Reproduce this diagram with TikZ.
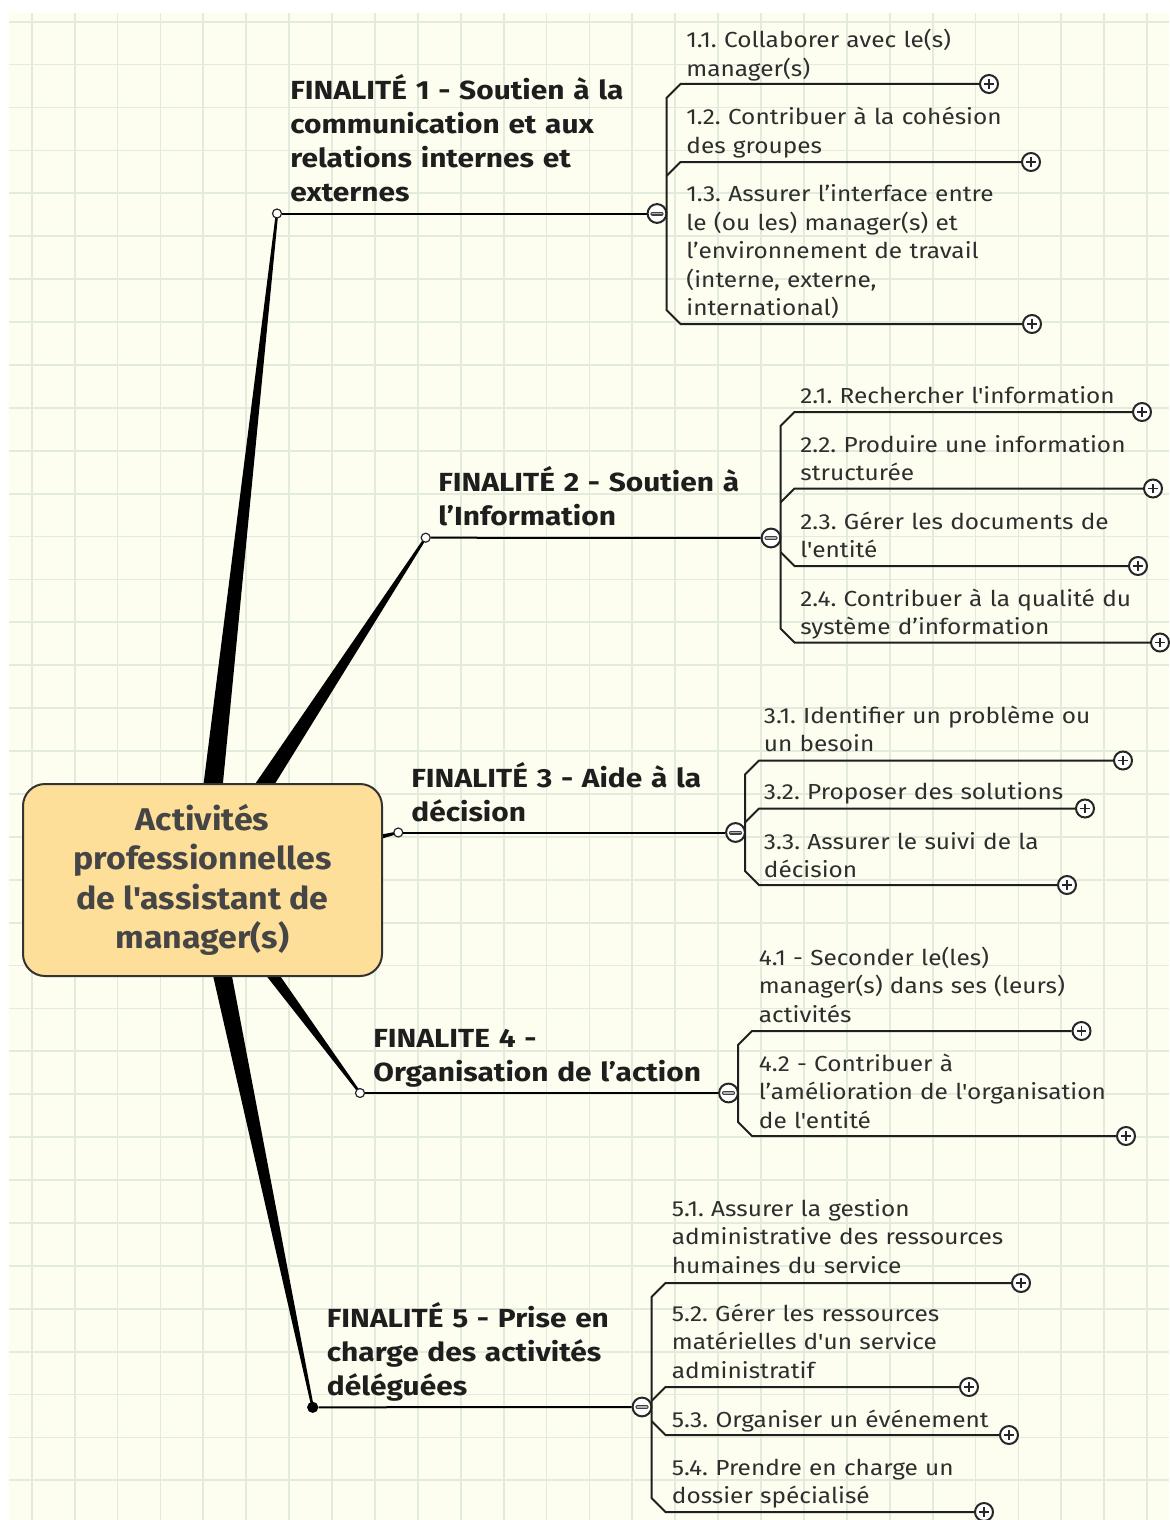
\documentclass[tikz,border=0pt]{standalone}
\usepackage{fontspec}
\setmainfont{Fira Sans}[Ligatures=TeXOff]
\newfontfamily\subfont{Fira Sans}[Ligatures=TeXOff, FakeStretch=1.12]
\newfontfamily\ttlfont{Fira Sans}[Ligatures=TeXOff, FakeStretch=1.14]
\newfontfamily\rootfont{Fira Sans}[Ligatures=TeXOff, FakeStretch=1.08]
\usetikzlibrary{calc}
\definecolor{bgc}{HTML}{FDFDF0}
\definecolor{gridc}{HTML}{E3EBDD}
\definecolor{rootc}{HTML}{FDDF9A}
\definecolor{subtxt}{HTML}{2E2E2E}
\definecolor{ttltxt}{HTML}{1E1E1E}
\definecolor{roottxt}{HTML}{454545}
\frenchspacing
\begin{document}
\begin{tikzpicture}[x=0.5pt,y=-0.5pt,
  subitem/.style={anchor=base west, inner sep=0pt, text width=260pt, align=left,
    font=\subfont\fontsize{10.9}{14.25}\selectfont, text=subtxt},
  ttlitem/.style={anchor=base west, inner sep=0pt, text width=260pt, align=left,
    font=\ttlfont\fontsize{13.1}{17}\selectfont\bfseries, text=ttltxt},
  rootbox/.style={draw=black!80, line width=1pt, fill=rootc, rounded corners=11pt,
    minimum width=179.5pt, minimum height=96pt, inner sep=0pt, align=center,
    font=\rootfont\fontsize{15.7}{19.65}\selectfont\bfseries, text=roottxt},
  endpt/.style={circle, draw=black!85, fill=white, line width=0.6pt, minimum size=4.5pt, inner sep=0pt},
  endfull/.style={circle, fill=black, minimum size=5.6pt, inner sep=0pt},
  plusc/.style={circle, draw=black!85, fill=white, line width=1pt, minimum size=9pt, inner sep=0pt,
    path picture={\draw[line width=0.65pt, black!85]
      ($(path picture bounding box.center)+(-2.4pt,0pt)$) -- ++(4.8pt,0pt)
      ($(path picture bounding box.center)+(0pt,-2.4pt)$) -- ++(0pt,4.8pt);}},
  minusc/.style={circle, draw=black!85, fill=white, line width=1pt, minimum size=9.4pt, inner sep=0pt,
    path picture={\draw[line width=2pt, black!75, line cap=round]
      ($(path picture bounding box.center)+(-2.3pt,0pt)$) -- ++(4.6pt,0pt);
      \draw[line width=0.9pt, black!30, line cap=round]
      ($(path picture bounding box.center)+(-2.3pt,0pt)$) -- ++(4.6pt,0pt);}},
  fline/.style={line width=1pt, black},
  uline/.style={line width=1pt, black!88},
]
\useasboundingbox (0,0) rectangle (1169,1520);
\fill[white] (0,0) rectangle (1169,1520);
\fill[bgc] (9,13) rectangle (1169,1520);
\foreach \i in {0,...,26} \draw[gridc, line width=0.9pt] ({31.7+42.9*\i},13) -- ({31.7+42.9*\i},1520);
\foreach \i in {0,...,34} \draw[gridc, line width=0.9pt] (9,{21.7+42.9*\i}) -- (1169,{21.7+42.9*\i});

% root centre and branch ends
\coordinate (rc) at (202.5,880);
\coordinate (c1) at (277,213.5);
\coordinate (c2) at (425.7,537.7);
\coordinate (c3) at (398.3,832.5);
\coordinate (c4) at (360,1093);
\coordinate (c5) at (312.7,1407.3);

% tapered branches
\foreach \e/\w in {c1/5.5pt, c2/5.5pt, c3/5.5pt, c4/4.5pt, c5/5.5pt}{
  \fill[black] ($(rc)!\w!90:(\e)$) -- ($(\e)!0.6pt!-90:(rc)$) -- ($(\e)!0.6pt!90:(rc)$) -- ($(rc)!\w!-90:(\e)$) -- cycle;
}

% root node
\node[rootbox] (root) at (rc) {Activités\\professionnelles\\de l'assistant de\\manager(s)};

% branch end points
\node[endpt] (e1) at (c1) {};
\node[endpt] (e2) at (c2) {};
\node[endpt] (e3) at (c3) {};
\node[endpt] (e4) at (c4) {};
\node[endfull] (e5) at (c5) {};

% collapse circles
\node[minusc] (m1) at (657,213.5) {};
\node[minusc] (m2) at (771,538) {};
\node[minusc] (m3) at (735.5,832.5) {};
\node[minusc] (m4) at (728.5,1093) {};
\node[minusc] (m5) at (642,1407) {};

\draw[fline] (e1) -- (m1);
\draw[fline] (e2) -- (m2);
\draw[fline] (e3) -- (m3);
\draw[fline] (e4) -- (m4);
\draw[fline] (e5) -- (m5);

% titles
\node[ttlitem] (t1) at (290,100) {FINALITÉ 1 - Soutien à la\\communication et aux\\relations internes et\\externes};
\node[ttlitem] (t2) at (438,491) {FINALITÉ 2 - Soutien à\\l’Information};
\node[ttlitem] (t3) at (411,787) {FINALITÉ 3 - Aide à la\\décision};
\node[ttlitem] (t4) at (373,1047) {FINALITE 4 -\\Organisation de l’action};
\node[ttlitem] (t5) at (326.5,1327) {FINALITÉ 5 - Prise en\\charge des activités\\déléguées};

% expand circles
\node[plusc] (p11) at (989,84) {};
\node[plusc] (p12) at (1031,162) {};
\node[plusc] (p13) at (1032,324) {};
\node[plusc] (p21) at (1142,412) {};
\node[plusc] (p22) at (1153,488.5) {};
\node[plusc] (p23) at (1138,566) {};
\node[plusc] (p24) at (1160,642.5) {};
\node[plusc] (p31) at (1123,760.5) {};
\node[plusc] (p32) at (1085,808.5) {};
\node[plusc] (p33) at (1067,885) {};
\node[plusc] (p41) at (1081.5,1031) {};
\node[plusc] (p42) at (1126,1136) {};
\node[plusc] (p51) at (1021,1283) {};
\node[plusc] (p52) at (969,1387) {};
\node[plusc] (p53) at (1009,1435) {};
\node[plusc] (p54) at (984,1512) {};

% brackets (vertical x = circle x + 9.5, chamfer 14)
\draw[uline] (p11) -- (680.5,84) -- (666.5,98) -- (666.5,310) -- (680.5,324) -- (p13);
\draw[uline] (p12) -- (680.5,162) -- (666.5,176);
\draw[uline] (p21) -- (794.5,412) -- (780.5,426) -- (780.5,628.5) -- (794.5,642.5) -- (p24);
\draw[uline] (p22) -- (794.5,488.5) -- (780.5,502.5);
\draw[uline] (p23) -- (794.5,566) -- (780.5,552);
\draw[uline] (p31) -- (759,760.5) -- (745,774.5) -- (745,871) -- (759,885) -- (p33);
\draw[uline] (p32) -- (759,808.5) -- (745,822.5);
\draw[uline] (p41) -- (752,1031) -- (738,1045) -- (738,1122) -- (752,1136) -- (p42);
\draw[uline] (p51) -- (665.5,1283) -- (651.5,1297) -- (651.5,1498) -- (665.5,1512) -- (p54);
\draw[uline] (p52) -- (665.5,1387) -- (651.5,1401);
\draw[uline] (p53) -- (665.5,1435) -- (651.5,1421);

% sub items
\node[subitem] (s11) at (686,48) {1.1. Collaborer avec le(s)\\manager(s)};
\node[subitem] (s12) at (686,125) {1.2. Contribuer à la cohésion\\des groupes};
\node[subitem] (s13) at (686,201.5) {1.3. Assurer l’interface entre\\le (ou les) manager(s) et\\l’environnement de travail\\(interne, externe,\\international)};
\node[subitem] (s21) at (800,403) {2.1. Rechercher l'information};
\node[subitem] (s22) at (800,452) {2.2. Produire une information\\structurée};
\node[subitem] (s23) at (800,529) {2.3. Gérer les documents de\\l'entité};
\node[subitem] (s24) at (800,606) {2.4. Contribuer à la qualité du\\système d’information};
\node[subitem] (s31) at (763.5,723) {3.1. Identifier un problème ou\\un besoin};
\node[subitem] (s32) at (763.5,799) {3.2. Proposer des solutions};
\node[subitem] (s33) at (763.5,849) {3.3. Assurer le suivi de la\\décision};
\node[subitem] (s41) at (758.5,965) {4.1 - Seconder le(les)\\manager(s) dans ses (leurs)\\activités};
\node[subitem] (s42) at (758.5,1071) {4.2 - Contribuer à\\l’amélioration de l'organisation\\de l'entité};
\node[subitem] (s51) at (671.5,1216) {5.1. Assurer la gestion\\administrative des ressources\\humaines du service};
\node[subitem] (s52) at (671.5,1321) {5.2. Gérer les ressources\\matérielles d'un service\\administratif};
\node[subitem] (s53) at (671.5,1427) {5.3. Organiser un événement};
\node[subitem] (s54) at (671.5,1475) {5.4. Prendre en charge un\\dossier spécialisé};
\end{tikzpicture}
\end{document}
